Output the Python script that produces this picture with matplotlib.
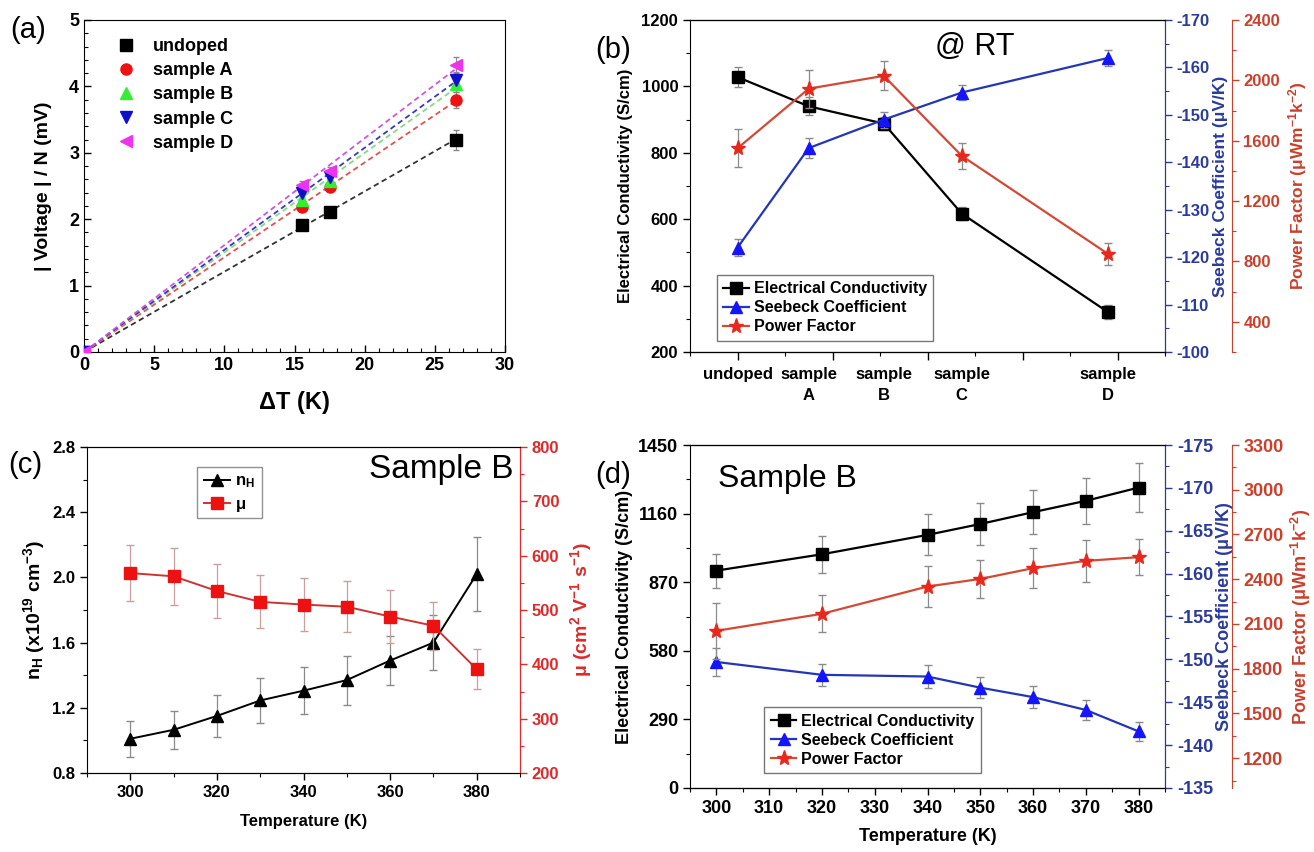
import numpy as np
import matplotlib
matplotlib.use("Agg")
import matplotlib.pyplot as plt
from matplotlib.ticker import MultipleLocator

plt.rcParams['font.family'] = ['Liberation Sans', 'DejaVu Sans']
plt.rcParams['axes.unicode_minus'] = False
plt.rcParams['mathtext.fontset'] = 'custom'
plt.rcParams['mathtext.rm'] = 'Liberation Sans:bold'
plt.rcParams['mathtext.it'] = 'Liberation Sans:bold'
plt.rcParams['mathtext.bf'] = 'Liberation Sans:bold'

# ---------------- data ----------------
# (a)
dT = [0, 15.5, 17.5, 26.5]
v_undoped = [0, 1.91, 2.11, 3.19]
v_A = [0, 2.19, 2.49, 3.80]
v_B = [0, 2.29, 2.57, 4.03]
v_C = [0, 2.40, 2.64, 4.10]
v_D = [0, 2.51, 2.72, 4.32]
err_undoped = [0, 0.07, 0.07, 0.15]
err_samples = [0, 0.07, 0.07, 0.12]
a_labels = ['undoped', 'sample A', 'sample B', 'sample C', 'sample D']

# (b)
b_pos = [0, 0.75, 1.54, 2.36, 3.9]
b_labels = ['undoped', 'sample\nA', 'sample\nB', 'sample\nC', 'sample\nD']
b_ec = [1028, 940, 888, 617, 320]
b_ec_err = [30, 27, 20, 20, 22]
b_s = [-122.0, -143.0, -149.0, -154.7, -162.0]
b_s_err = [1.8, 2.1, 1.7, 1.5, 1.7]
b_pf = [1550, 1945, 2030, 1500, 850]
b_pf_err = [127, 125, 97, 88, 75]

# (c)
c_T = [300, 310, 320, 330, 340, 350, 360, 370, 380]
c_nH = [1.01, 1.065, 1.15, 1.245, 1.305, 1.37, 1.49, 1.60, 2.02]
c_nH_err = [0.11, 0.115, 0.13, 0.14, 0.145, 0.15, 0.15, 0.17, 0.225]
c_mu = [568, 562, 535, 515, 510, 506, 488, 471, 391]
c_mu_err = [52, 52, 50, 49, 49, 47, 48, 44, 37]

# (d)
d_T = [300, 320, 340, 350, 360, 370, 380]
d_ec = [919, 988, 1070, 1116, 1166, 1214, 1270]
d_ec_err = [72, 79, 87, 88, 93, 97, 102]
d_s = [-149.7, -148.2, -148.0, -146.7, -145.6, -144.1, -141.6]
d_s_err = [1.6, 1.25, 1.3, 1.2, 1.25, 1.2, 1.15]
d_pf = [2054, 2168, 2351, 2402, 2474, 2523, 2548]
d_pf_err = [188, 125, 137, 128, 132, 140, 122]

# ---------------- styles ----------------
W, H = 1314, 852
BLUE_AX = '#2b3b9c'
RED_AX = '#c9402d'
BLUE_LINE = '#2436b4'
BLUE_MK = '#1414ff'
RED_LINE = '#d24a35'
RED_MK = '#e8281c'
ERR_C = '#8a8a8a'

fig = plt.figure(figsize=(W / 100, H / 100), dpi=100)


def rect(l, r, t, b):
    return [l / W, 1 - b / H, (r - l) / W, (b - t) / H]


def style_ticks(ax, size, direction='out'):
    ax.tick_params(axis='both', which='major', direction=direction, length=5, width=1.0,
                   labelsize=size)
    ax.tick_params(axis='both', which='minor', direction=direction, length=3, width=0.8)
    for lab in ax.get_xticklabels() + ax.get_yticklabels():
        lab.set_fontweight('bold')


# ---------------- (a) ----------------
axa = fig.add_axes(rect(84, 505, 20, 352))
a_series = [v_undoped, v_A, v_B, v_C, v_D]
a_errs = [err_undoped, err_samples, err_samples, err_samples, err_samples]
a_mk = ['s', 'o', '^', 'v', '<']
a_mc = ['#000000', '#ee1111', '#33ee33', '#1010cc', '#ee33ee']
a_lc = ['#333333', '#e05050', '#88d888', '#3a3ab0', '#cc55dd']
x_arr = np.array(dT)
handles = []
for ys, es, mk, mc, lc, lab in zip(a_series, a_errs, a_mk, a_mc, a_lc, a_labels):
    y_arr = np.array(ys)
    slope = np.sum(x_arr * y_arr) / np.sum(x_arr * x_arr)
    xx = np.array([0, dT[-1]])
    axa.plot(xx, slope * xx, ls=(0, (3, 2)), color=lc, lw=1.3, zorder=2)
    axa.errorbar(dT[1:], ys[1:], yerr=es[1:], fmt='none', ecolor=ERR_C, capsize=2, elinewidth=0.8, zorder=3)
    h, = axa.plot(dT, ys, ls='none', marker=mk, color=mc, ms=8, zorder=4, label=lab)
    handles.append(h)
axa.set_xlim(0, 30)
axa.set_ylim(0, 5)
axa.xaxis.set_major_locator(MultipleLocator(5))
axa.xaxis.set_minor_locator(MultipleLocator(1))
axa.yaxis.set_major_locator(MultipleLocator(1))
axa.yaxis.set_minor_locator(MultipleLocator(0.2))
style_ticks(axa, 13, 'in')
axa.set_xlabel('ΔT (K)', fontsize=17, fontweight='bold', labelpad=12)
axa.set_ylabel('| Voltage | / N (mV)', fontsize=14, fontweight='bold', labelpad=12)
leg = axa.legend(handles=handles, loc='upper left', bbox_to_anchor=(0.04, 0.995), frameon=False,
                 prop={'weight': 'bold', 'size': 13}, handletextpad=1.0, labelspacing=0.4,
                 handlelength=1.0)

# ---------------- (b) ----------------
axb = fig.add_axes(rect(690, 1165, 20, 352))
axb2 = axb.twinx()
axb3 = axb.twinx()
axb3.spines['right'].set_position(('axes', 1.14))

axb.errorbar(b_pos, b_ec, yerr=b_ec_err, fmt='none', ecolor=ERR_C, capsize=3, elinewidth=0.9)
hb1, = axb.plot(b_pos, b_ec, '-s', color='black', ms=8, lw=1.6, label='Electrical Conductivity')
axb2.errorbar(b_pos, b_s, yerr=b_s_err, fmt='none', ecolor=ERR_C, capsize=3, elinewidth=0.9)
hb2, = axb2.plot(b_pos, b_s, '-^', color=BLUE_LINE, mfc=BLUE_MK, mec=BLUE_MK, ms=9, lw=1.6,
                 label='Seebeck Coefficient')
axb3.errorbar(b_pos, b_pf, yerr=b_pf_err, fmt='none', ecolor=ERR_C, capsize=3, elinewidth=0.9)
hb3, = axb3.plot(b_pos, b_pf, '-*', color=RED_LINE, mfc=RED_MK, mec=RED_MK, ms=11, lw=1.6,
                 label='Power Factor')

axb.set_xlim(-0.5, 4.5)
axb.set_ylim(200, 1200)
axb.xaxis.set_major_locator(MultipleLocator(1))
axb.xaxis.set_minor_locator(MultipleLocator(0.5))
axb.set_xticklabels([])
axb.yaxis.set_major_locator(MultipleLocator(200))
axb.yaxis.set_minor_locator(MultipleLocator(100))
axb2.set_ylim(-100, -170)
axb2.yaxis.set_major_locator(MultipleLocator(10))
axb2.yaxis.set_minor_locator(MultipleLocator(5))
axb3.set_ylim(200, 2400)
axb3.set_yticks([400, 800, 1200, 1600, 2000, 2400])
axb3.yaxis.set_minor_locator(MultipleLocator(200))
for a in (axb, axb2, axb3):
    style_ticks(a, 12)
axb.tick_params(axis='x', which='major', length=6)
for p, lab in zip(b_pos, b_labels):
    axb.text(p, -0.045, lab, transform=axb.get_xaxis_transform(), ha='center', va='top',
             fontsize=12, fontweight='bold', linespacing=1.5)
axb2.spines['right'].set_color(BLUE_AX)
axb2.tick_params(axis='y', which='both', colors=BLUE_AX)
axb3.spines['right'].set_color(RED_AX)
axb3.tick_params(axis='y', which='both', colors=RED_AX)
for a in (axb2, axb3):
    a.spines['left'].set_visible(False)
axb.set_ylabel('Electrical Conductivity (S/cm)', fontsize=12, fontweight='bold', labelpad=6)
axb2.set_ylabel('Seebeck Coefficient (μV/K)', fontsize=12.5, fontweight='bold', color=BLUE_AX, labelpad=2)
axb3.set_ylabel('Power Factor (μWm$^{-1}$k$^{-2}$)', fontsize=12.5, fontweight='bold', color=RED_AX,
                labelpad=4)
axb.text(0.6, 0.92, '@ RT', transform=axb.transAxes, fontsize=22, ha='center', va='center')
legb = axb3.legend(handles=[hb1, hb2, hb3], loc='lower left', bbox_to_anchor=(0.04, 0.01),
                   prop={'weight': 'bold', 'size': 11.5}, fancybox=False, edgecolor='#555555',
                   handlelength=1.6, handletextpad=0.3, borderpad=0.4, labelspacing=0.25)
legb.get_frame().set_linewidth(1.0)

# ---------------- (c) ----------------
axc = fig.add_axes(rect(87, 520, 447, 773))
axc2 = axc.twinx()
axc.errorbar(c_T, c_nH, yerr=c_nH_err, fmt='none', ecolor=ERR_C, capsize=3, elinewidth=0.9)
hc1, = axc.plot(c_T, c_nH, '-^', color='black', ms=9, lw=1.4, label='n$_\\mathregular{H}$')
axc2.errorbar(c_T, c_mu, yerr=c_mu_err, fmt='none', ecolor='#c8a0a0', capsize=3, elinewidth=0.9)
hc2, = axc2.plot(c_T, c_mu, '-s', color='#cc3333', mfc='#ee1111', mec='#ee1111', ms=8, lw=1.4,
                 label='μ')
axc.set_xlim(290, 390)
axc.set_ylim(0.8, 2.8)
axc.xaxis.set_major_locator(MultipleLocator(20))
axc.xaxis.set_minor_locator(MultipleLocator(10))
axc.yaxis.set_major_locator(MultipleLocator(0.4))
axc.yaxis.set_minor_locator(MultipleLocator(0.2))
axc2.set_ylim(200, 800)
axc2.yaxis.set_major_locator(MultipleLocator(100))
axc2.yaxis.set_minor_locator(MultipleLocator(50))
style_ticks(axc, 12)
style_ticks(axc2, 12)
axc2.spines['right'].set_color('#dd2a2a')
axc2.tick_params(axis='y', which='both', colors='#dd2a2a')
axc2.spines['left'].set_visible(False)
axc.set_xlabel('Temperature (K)', fontsize=12, fontweight='bold', labelpad=10)
axc.set_ylabel('n$_\\mathregular{H}$ (x10$^{19}$ cm$^{-3}$)', fontsize=14, fontweight='bold', labelpad=4)
axc2.set_ylabel('μ (cm$^{2}$ V$^{-1}$ s$^{-1}$)', fontsize=14, fontweight='bold', color='#dd2a2a',
                labelpad=6)
axc.text(0.985, 0.93, 'Sample B', transform=axc.transAxes, fontsize=24, ha='right', va='center')
legc = axc2.legend(handles=[hc1, hc2], loc='upper left', bbox_to_anchor=(0.235, 0.965),
                   prop={'weight': 'bold', 'size': 12}, fancybox=False, edgecolor='#777777',
                   handlelength=1.6, handletextpad=0.3, borderpad=0.4, labelspacing=0.4)

# ---------------- (d) ----------------
axd = fig.add_axes(rect(690, 1165, 445, 788))
axd2 = axd.twinx()
axd3 = axd.twinx()
axd3.spines['right'].set_position(('axes', 1.14))
axd.errorbar(d_T, d_ec, yerr=d_ec_err, fmt='none', ecolor=ERR_C, capsize=3, elinewidth=0.9)
hd1, = axd.plot(d_T, d_ec, '-s', color='black', ms=8, lw=1.6, label='Electrical Conductivity')
axd2.errorbar(d_T, d_s, yerr=d_s_err, fmt='none', ecolor=ERR_C, capsize=3, elinewidth=0.9)
hd2, = axd2.plot(d_T, d_s, '-^', color=BLUE_LINE, mfc=BLUE_MK, mec=BLUE_MK, ms=9, lw=1.6,
                 label='Seebeck Coefficient')
axd3.errorbar(d_T, d_pf, yerr=d_pf_err, fmt='none', ecolor=ERR_C, capsize=3, elinewidth=0.9)
hd3, = axd3.plot(d_T, d_pf, '-*', color=RED_LINE, mfc=RED_MK, mec=RED_MK, ms=11, lw=1.6,
                 label='Power Factor')
axd.set_xlim(295, 385)
axd.set_ylim(0, 1450)
axd.xaxis.set_major_locator(MultipleLocator(10))
axd.xaxis.set_minor_locator(MultipleLocator(5))
axd.yaxis.set_major_locator(MultipleLocator(290))
axd.yaxis.set_minor_locator(MultipleLocator(145))
axd2.set_ylim(-135, -175)
axd2.yaxis.set_major_locator(MultipleLocator(5))
axd2.yaxis.set_minor_locator(MultipleLocator(2.5))
axd3.set_ylim(1000, 3300)
axd3.set_yticks([1200, 1500, 1800, 2100, 2400, 2700, 3000, 3300])
axd3.yaxis.set_minor_locator(MultipleLocator(150))
for a in (axd, axd2, axd3):
    style_ticks(a, 13)
axd2.spines['right'].set_color(BLUE_AX)
axd2.tick_params(axis='y', which='both', colors=BLUE_AX)
axd3.spines['right'].set_color(RED_AX)
axd3.tick_params(axis='y', which='both', colors=RED_AX)
for a in (axd2, axd3):
    a.spines['left'].set_visible(False)
axd.set_xlabel('Temperature (K)', fontsize=13, fontweight='bold', labelpad=8)
axd.set_ylabel('Electrical Conductivity (S/cm)', fontsize=13, fontweight='bold', labelpad=4)
axd2.set_ylabel('Seebeck Coefficient (μV/K)', fontsize=13, fontweight='bold', color=BLUE_AX, labelpad=2)
axd3.set_ylabel('Power Factor (μWm$^{-1}$k$^{-2}$)', fontsize=13, fontweight='bold', color=RED_AX,
                labelpad=4)
axd.text(0.06, 0.9, 'Sample B', transform=axd.transAxes, fontsize=23, ha='left', va='center')
legd = axd3.legend(handles=[hd1, hd2, hd3], loc='lower left', bbox_to_anchor=(0.14, 0.02),
                   prop={'weight': 'bold', 'size': 11.5}, fancybox=False, edgecolor='#555555',
                   handlelength=1.6, handletextpad=0.3, borderpad=0.4, labelspacing=0.25)

# panel letters
fig.text(10 / W, 1 - 30 / H, '(a)', fontsize=21, va='center', ha='left')
fig.text(595 / W, 1 - 50 / H, '(b)', fontsize=21, va='center', ha='left')
fig.text(8 / W, 1 - 465 / H, '(c)', fontsize=21, va='center', ha='left')
fig.text(595 / W, 1 - 475 / H, '(d)', fontsize=21, va='center', ha='left')

fig.savefig('out.png', dpi=100)
